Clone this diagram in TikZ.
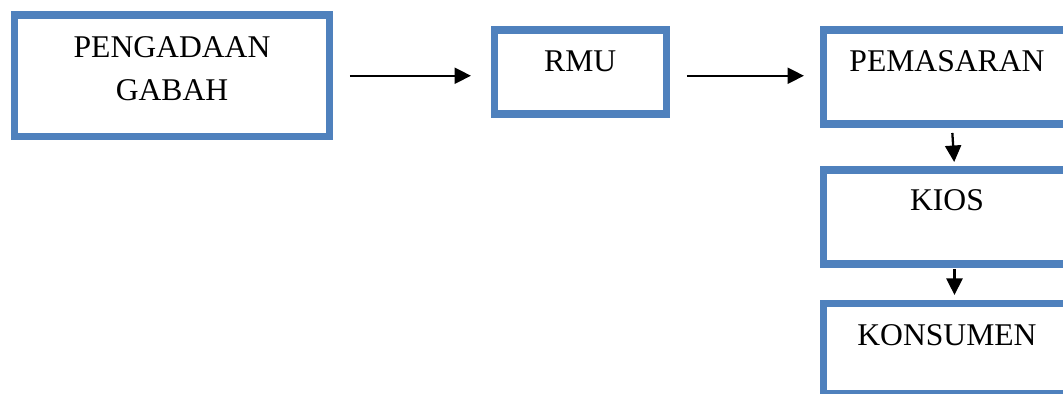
\documentclass[tikz,border=0pt]{standalone}
\usepackage{fontspec}
\setmainfont{Liberation Serif}
\usetikzlibrary{arrows.meta}
\definecolor{boxblue}{RGB}{79,129,189}

\begin{document}
\begin{tikzpicture}[x=0.02cm, y=-0.02cm,
				box/.style={draw=boxblue, line width=4pt, anchor=north west, inner sep=0pt, align=center, font=\fontsize{18}{24.4}\selectfont},
				flow/.style={-{Triangle[length=0.33cm, width=0.32cm]}, line width=1.3pt}
				]
				
				\useasboundingbox (0,0) rectangle (1063,394);
				\clip (0,0) rectangle (1063,394);
				
				\node[box, minimum width=6.3cm, text height=1.71cm, text depth=0.72cm] (gabah) at (11,11.5) {PENGADAAN\\GABAH};
				\node[box, minimum width=3.45cm, text height=0.83cm, text depth=0.85cm] (rmu) at (490.5,26.5) {RMU};
				
				% right column runs past the page edge
				\node[box, minimum width=4.96cm, text height=0.83cm, text depth=1.05cm] (pemasaran) at (819.5,26.5) {PEMASARAN};
				\node[box, minimum width=4.96cm, text height=0.81cm, text depth=1.07cm] (kios) at (819.5,166.5) {KIOS};
				\node[box, minimum width=4.96cm, text height=0.84cm, text depth=0.97cm] (konsumen) at (819.5,300) {KONSUMEN};
				
				\draw[flow, shorten <=0.34cm, shorten >=0.39cm] (gabah.east) -- (gabah.east -| rmu.west);
				\draw[flow, shorten <=0.34cm, shorten >=0.31cm] (rmu.east |- gabah.east) -- (gabah.east -| pemasaran.west);
				\draw[flow, shorten <=0.11cm, shorten >=0.09cm] ([xshift=0.1cm]pemasaran.south) -- ([xshift=0.15cm]kios.north);
				\draw[flow, shorten <=0.03cm, shorten >=0.1cm] ([xshift=0.15cm]kios.south) -- ([xshift=0.15cm]konsumen.north);
				
			\end{tikzpicture}
\end{document}
